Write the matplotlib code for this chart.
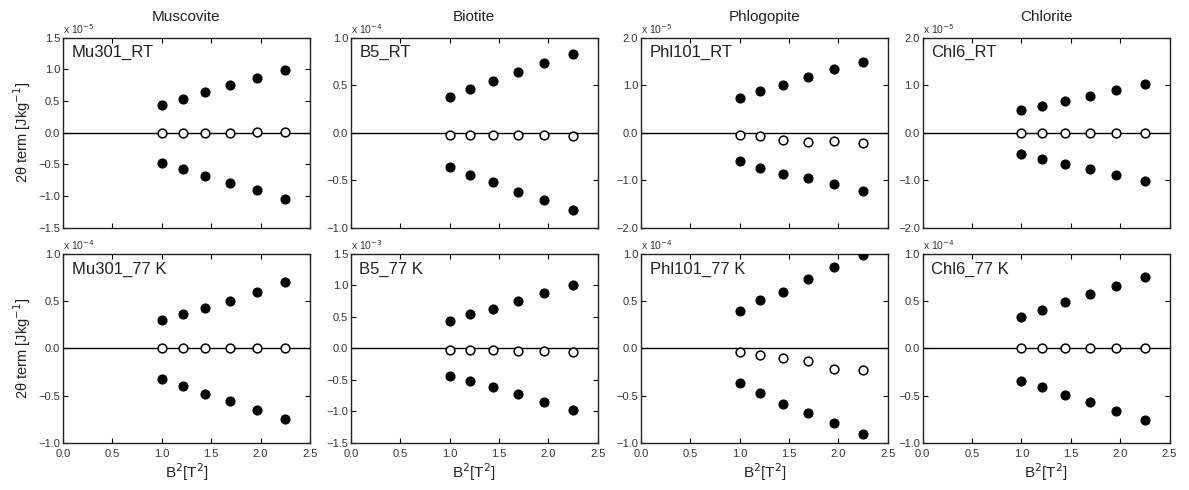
import matplotlib
matplotlib.use("Agg")
import matplotlib.pyplot as plt
import numpy as np

plt.rcParams['font.family'] = ['Liberation Sans', 'DejaVu Sans']

b2 = [1.0, 1.21, 1.44, 1.69, 1.96, 2.25]

columns = ["Muscovite", "Biotite", "Phlogopite", "Chlorite"]
labels_rt = ["Mu301_RT", "B5_RT", "Phl101_RT", "Chl6_RT"]
labels_77 = ["Mu301_77 K", "B5_77 K", "Phl101_77 K", "Chl6_77 K"]

# Top row (RT) values, in units of the shown multiplier
mu_rt_up = [0.44, 0.54, 0.64, 0.75, 0.87, 0.99]
mu_rt_mid = [0.0, 0.0, 0.0, 0.0, 0.01, 0.01]
mu_rt_lo = [-0.47, -0.57, -0.68, -0.79, -0.91, -1.05]

b5_rt_up = [0.38, 0.46, 0.54, 0.64, 0.73, 0.83]
b5_rt_mid = [-0.02, -0.02, -0.02, -0.02, -0.02, -0.03]
b5_rt_lo = [-0.36, -0.44, -0.52, -0.62, -0.71, -0.81]

phl_rt_up = [0.73, 0.87, 1.01, 1.18, 1.35, 1.49]
phl_rt_mid = [-0.05, -0.06, -0.16, -0.19, -0.18, -0.22]
phl_rt_lo = [-0.60, -0.74, -0.86, -0.96, -1.08, -1.23]

chl_rt_up = [0.47, 0.56, 0.67, 0.77, 0.90, 1.03]
chl_rt_mid = [0.0, 0.0, 0.0, 0.0, 0.0, 0.0]
chl_rt_lo = [-0.45, -0.56, -0.65, -0.77, -0.89, -1.02]

# Bottom row (77 K)
mu_77_up = [0.30, 0.36, 0.43, 0.50, 0.60, 0.70]
mu_77_mid = [0.0, 0.0, 0.0, 0.0, 0.0, 0.0]
mu_77_lo = [-0.32, -0.40, -0.48, -0.56, -0.65, -0.75]

b5_77_up = [0.44, 0.54, 0.63, 0.75, 0.88, 1.00]
b5_77_mid = [-0.03, -0.03, -0.03, -0.04, -0.04, -0.05]
b5_77_lo = [-0.43, -0.52, -0.62, -0.73, -0.85, -0.97]

phl_77_up = [0.40, 0.51, 0.60, 0.73, 0.86, 0.99]
phl_77_mid = [-0.04, -0.07, -0.10, -0.13, -0.22, -0.23]
phl_77_lo = [-0.37, -0.47, -0.59, -0.68, -0.79, -0.91]

chl_77_up = [0.33, 0.41, 0.49, 0.57, 0.66, 0.76]
chl_77_mid = [0.0, 0.0, 0.0, 0.0, 0.0, 0.0]
chl_77_lo = [-0.34, -0.41, -0.49, -0.57, -0.66, -0.76]

top_data = [(mu_rt_up, mu_rt_mid, mu_rt_lo), (b5_rt_up, b5_rt_mid, b5_rt_lo),
            (phl_rt_up, phl_rt_mid, phl_rt_lo), (chl_rt_up, chl_rt_mid, chl_rt_lo)]
bot_data = [(mu_77_up, mu_77_mid, mu_77_lo), (b5_77_up, b5_77_mid, b5_77_lo),
            (phl_77_up, phl_77_mid, phl_77_lo), (chl_77_up, chl_77_mid, chl_77_lo)]

top_exp = ["-5", "-4", "-5", "-5"]
bot_exp = ["-4", "-3", "-4", "-4"]
top_lim = [1.5, 1.0, 2.0, 2.0]
bot_lim = [1.0, 1.5, 1.0, 1.0]
top_step = [0.5, 0.5, 1.0, 1.0]
bot_step = [0.5, 0.5, 0.5, 0.5]

fig = plt.figure(figsize=(11.89, 4.9), dpi=100)

lefts = [0.053, 0.295, 0.539, 0.776]
w = 0.2077
top_row = (0.535, 0.388)
bot_row = (0.096, 0.386)

tick_color = '#333333'

def draw(ax, data, lim, step, exp, label, show_xlabels):
    up, mid, lo = data
    ax.axhline(0, color='black', lw=1.0, zorder=1)
    ax.plot(b2, up, 'o', ms=6.3, mfc='black', mec='black', zorder=3)
    ax.plot(b2, lo, 'o', ms=6.3, mfc='black', mec='black', zorder=3)
    ax.plot(b2, mid, 'o', ms=6.3, mfc='white', mec='black', mew=1.1, zorder=3)
    ax.set_xlim(0, 2.5)
    ax.set_ylim(-lim, lim)
    ax.set_xticks(np.arange(0, 2.51, 0.5))
    yt = np.arange(-lim, lim + 0.001, step)
    ax.set_yticks(yt)
    ax.set_yticklabels([f"{v:.1f}".replace('-', '\u2212') if abs(v) > 1e-9 else "0.0"
                        for v in yt])
    if show_xlabels:
        ax.set_xticklabels([f"{v:.1f}" for v in np.arange(0, 2.51, 0.5)])
    else:
        ax.set_xticklabels([])
    ax.tick_params(direction='in', top=True, right=True, length=3.5, width=0.8,
                   labelsize=8, labelcolor=tick_color)
    ax.tick_params(axis='y', pad=2)
    ax.tick_params(axis='x', pad=4)
    for s in ax.spines.values():
        s.set_linewidth(1.0)
        s.set_color('#222222')
    ax.text(0.035, 0.96, label, transform=ax.transAxes, ha='left', va='top',
            fontsize=12, color='#222222')
    ax.text(0.0, 1.01, r"x 10$^{" + exp + "}$", transform=ax.transAxes,
            ha='left', va='bottom', fontsize=7.5, color=tick_color)

for i in range(4):
    ax = fig.add_axes([lefts[i], top_row[0], w, top_row[1]])
    draw(ax, top_data[i], top_lim[i], top_step[i], top_exp[i], labels_rt[i], False)
    ax.set_title(columns[i], fontsize=11, color='#222222', pad=12)
    if i == 0:
        ax.set_ylabel("2\u03b8 term [Jkg$^{-1}$]", fontsize=10.5, color='#222222', labelpad=4)

    ax2 = fig.add_axes([lefts[i], bot_row[0], w, bot_row[1]])
    draw(ax2, bot_data[i], bot_lim[i], bot_step[i], bot_exp[i], labels_77[i], True)
    ax2.set_xlabel("B$^2$[T$^2$]", fontsize=11, color='#222222', labelpad=2)
    if i == 0:
        ax2.set_ylabel("2\u03b8 term [Jkg$^{-1}$]", fontsize=10.5, color='#222222', labelpad=4)

fig.savefig("out.png", dpi=100)
